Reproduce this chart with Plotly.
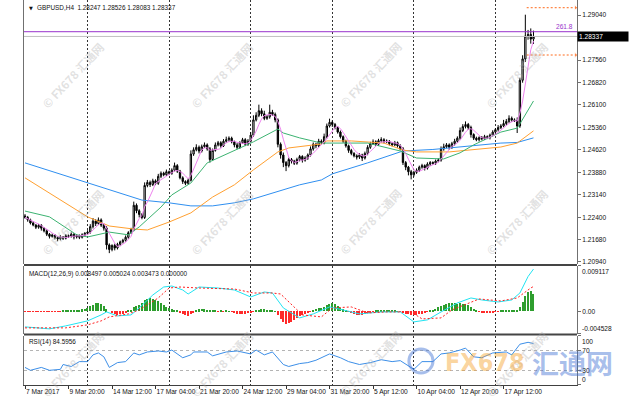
import plotly.graph_objects as go
import pandas as pd

# ---------------- data ----------------
first_open = 1.2245
closes = [
    1.2240, 1.2232, 1.2222, 1.2215, 1.2208, 1.2214, 1.2205, 1.2196, 1.2185, 1.2178,
    1.2182, 1.2174, 1.2170, 1.2176, 1.2172, 1.2180, 1.2178, 1.2185, 1.2176, 1.2181,
    1.2175, 1.2183, 1.2188, 1.2192, 1.2210, 1.2228, 1.2220, 1.2232, 1.2215, 1.2205,
    1.2150, 1.2135, 1.2148, 1.2140, 1.2152, 1.2160, 1.2165, 1.2175, 1.2190, 1.2200,
    1.2280, 1.2262, 1.2250, 1.2240, 1.2345, 1.2355, 1.2348, 1.2360, 1.2352, 1.2375,
    1.2385, 1.2380, 1.2390, 1.2385, 1.2395, 1.2410, 1.2392, 1.2370, 1.2358, 1.2352,
    1.2362, 1.2448, 1.2462, 1.2470, 1.2458, 1.2472, 1.2478, 1.2465, 1.2430, 1.2460,
    1.2478, 1.2485, 1.2475, 1.2490, 1.2495, 1.2500, 1.2488, 1.2478, 1.2470, 1.2485,
    1.2495, 1.2480, 1.2490, 1.2510, 1.2560, 1.2575, 1.2590, 1.2580, 1.2565, 1.2570,
    1.2585, 1.2578, 1.2560, 1.2480, 1.2445, 1.2420, 1.2410, 1.2430, 1.2425, 1.2418,
    1.2430, 1.2440, 1.2428, 1.2435, 1.2445, 1.2465, 1.2480, 1.2475, 1.2490, 1.2485,
    1.2505, 1.2540, 1.2552, 1.2545, 1.2535, 1.2520, 1.2505, 1.2490, 1.2475, 1.2460,
    1.2450, 1.2442, 1.2438, 1.2445, 1.2435, 1.2450, 1.2470, 1.2482, 1.2488, 1.2480,
    1.2492, 1.2495, 1.2488, 1.2490, 1.2482, 1.2478, 1.2485, 1.2475, 1.2465, 1.2420,
    1.2405, 1.2390, 1.2380, 1.2388, 1.2395, 1.2405, 1.2410, 1.2402, 1.2415, 1.2420,
    1.2418, 1.2425, 1.2428, 1.2465, 1.2472, 1.2478, 1.2470, 1.2482, 1.2490, 1.2500,
    1.2525, 1.2538, 1.2545, 1.2535, 1.2512, 1.2500, 1.2495, 1.2502, 1.2498, 1.2505,
    1.2502, 1.2510, 1.2520, 1.2528, 1.2535, 1.2540, 1.2548, 1.2555, 1.2565, 1.2560,
    1.2558, 1.2540, 1.2690, 1.2760, 1.2835, 1.2840, 1.2825, 1.28337,
]
upper_wick_pips = [
    6, 5, 4, 6, 3, 5, 4, 3, 5, 4,
    5, 3, 4, 6, 3, 5, 4, 6, 3, 4,
    3, 5, 4, 6, 8, 10, 6, 8, 5, 4,
    6, 5, 4, 6, 5, 4, 5, 6, 5, 6,
    12, 6, 5, 4, 10, 8, 6, 7, 5, 8,
    6, 5, 7, 4, 6, 10, 5, 4, 5, 4,
    6, 12, 8, 10, 6, 7, 8, 5, 6, 6,
    8, 6, 5, 7, 10, 6, 5, 4, 6, 5,
    6, 5, 7, 10, 15, 10, 20, 8, 10, 6,
    25, 8, 6, 5, 6, 8, 5, 6, 5, 4,
    6, 5, 4, 6, 5, 8, 6, 5, 8, 6,
    10, 8, 12, 6, 5, 4, 5, 4, 5, 4,
    5, 4, 5, 6, 4, 6, 7, 6, 8, 5,
    6, 8, 5, 6, 4, 5, 6, 4, 5, 6,
    5, 4, 6, 5, 6, 5, 6, 4, 6, 5,
    4, 5, 6, 8, 10, 6, 5, 6, 8, 6,
    10, 8, 10, 5, 6, 4, 5, 4, 5, 6,
    4, 5, 6, 5, 8, 6, 12, 8, 10, 6,
    5, 10, 8, 12, 70, 15, 20, 19,
]
lower_wick_pips = [
    4, 6, 5, 4, 6, 5, 8, 5, 6, 7,
    4, 6, 8, 5, 6, 4, 5, 4, 8, 5,
    6, 4, 5, 4, 5, 6, 8, 5, 6, 8,
    15, 12, 6, 8, 5, 6, 5, 4, 5, 4,
    5, 8, 10, 6, 5, 6, 8, 5, 6, 5,
    6, 5, 4, 6, 5, 4, 6, 5, 8, 6,
    5, 4, 6, 5, 8, 5, 4, 6, 10, 5,
    4, 5, 6, 4, 5, 6, 5, 8, 6, 5,
    4, 6, 5, 4, 6, 5, 6, 8, 6, 5,
    6, 5, 8, 10, 12, 15, 18, 6, 8, 6,
    5, 6, 8, 5, 6, 5, 6, 8, 5, 6,
    5, 6, 5, 8, 6, 5, 6, 5, 6, 8,
    6, 5, 8, 6, 10, 5, 6, 5, 4, 6,
    5, 6, 5, 4, 6, 5, 4, 6, 5, 8,
    10, 12, 15, 6, 5, 6, 5, 8, 5, 6,
    5, 6, 4, 5, 6, 5, 8, 5, 6, 5,
    6, 5, 6, 8, 10, 6, 5, 6, 5, 4,
    5, 6, 4, 5, 6, 5, 4, 6, 5, 6,
    5, 23, 6, 8, 10, 12, 15, 16,
]

blue_ma_idx = [0, 23, 43, 53, 61, 69, 77, 84, 93, 101, 109, 113, 126, 139, 150, 163, 175, 181, 187]
blue_ma = [1.2419, 1.2353, 1.2297, 1.2288, 1.2278, 1.2278, 1.2288, 1.2301, 1.2324, 1.2347,
           1.2363, 1.2383, 1.2419, 1.2458, 1.2463, 1.2474, 1.2484, 1.2486, 1.2501]
orange_ma_idx = [0, 9, 23, 31, 40, 45, 53, 61, 69, 77, 84, 93, 97, 109, 111, 120, 132, 139,
                 144, 156, 167, 175, 181, 187]
orange_ma = [1.2370, 1.2320, 1.2242, 1.2212, 1.2202, 1.2199, 1.2225, 1.2255, 1.2307, 1.2347,
             1.2396, 1.2455, 1.2468, 1.2481, 1.2491, 1.2491, 1.2484, 1.2461, 1.2455, 1.2455,
             1.2465, 1.2471, 1.2484, 1.2524]
green_ma_idx = [0, 9, 19, 23, 31, 38, 42, 50, 54, 61, 67, 77, 84, 93, 95, 101, 109, 117, 126,
                138, 144, 154, 160, 165, 175, 181, 182, 187]
green_ma = [1.2261, 1.2242, 1.2183, 1.2176, 1.2192, 1.2183, 1.2209, 1.2274, 1.2314, 1.2353,
            1.2419, 1.2461, 1.2488, 1.2530, 1.2517, 1.2501, 1.2484, 1.2484, 1.2484, 1.2458,
            1.2435, 1.2432, 1.2452, 1.2478, 1.2520, 1.2533, 1.2547, 1.2622]

macd_idx = [0, 9, 15, 23, 28, 30, 34, 39, 42, 47, 51, 54, 58, 60, 64, 71, 77, 83, 88, 91,
            95, 101, 106, 112, 117, 123, 131, 138, 143, 148, 153, 159, 164, 168, 174, 179,
            182, 185, 187]
macd_main = [-0.0031, -0.0035, -0.0029, -0.0019, -0.0007, -0.0001, -0.0009, -0.0007, 0.0007,
             0.0033, 0.0049, 0.0051, 0.0043, 0.0035, 0.0049, 0.0047, 0.0043, 0.0029, 0.0039,
             0.0037, 0.0007, -0.0013, -0.0005, 0.0009, 0.0003, -0.0005, -0.0001, -0.0001,
             -0.0021, -0.0017, -0.0001, 0.0017, 0.0027, 0.0023, 0.0019, 0.0023, 0.0037,
             0.0070, 0.0085]
signal_idx = [0, 15, 23, 28, 31, 38, 42, 49, 53, 57, 64, 77, 84, 91, 94, 99, 102, 109, 113,
              120, 126, 133, 142, 146, 153, 157, 163, 167, 175, 181, 186, 187]
macd_signal = [-0.0033, -0.0033, -0.0027, -0.0019, -0.0011, -0.0005, 0.0003, 0.0027, 0.0047,
               0.0049, 0.0047, 0.0045, 0.0037, 0.0037, 0.0035, 0.0009, -0.0007, -0.0011,
               0.0007, 0.0009, -0.0003, -0.0001, -0.0001, -0.0015, -0.0013, 0.0003, 0.0017,
               0.0025, 0.0021, 0.0027, 0.0047, 0.0050]
macd_hist = [
    -0.00005, -0.00005, -0.00005, -0.00005, -0.00005, -0.00005, -0.00005, -0.00005, -0.00005, -0.00005,
    -0.00005, -0.00005, -0.00005, -0.00005, 0.0001, 0.0001, 0.00015, 0.0002, 0.0002, 0.0003,
    0.0003, 0.0004, 0.0005, 0.0007, 0.0010, 0.0013, 0.0016, 0.0017, 0.0015, 0.0011,
    0.0004, 0.0000, -0.0003, -0.0005, -0.0007, -0.0006, -0.0005, -0.0003, 0.0001, 0.0003,
    0.0008, 0.0011, 0.0013, 0.0016, 0.0022, 0.0025, 0.0026, 0.0025, 0.0023, 0.0020,
    0.0016, 0.0012, 0.0009, 0.0006, 0.0004, 0.0002, 0.0001, -0.0003, -0.0006, -0.0008,
    -0.0009, -0.0006, -0.0002, 0.0002, 0.0004, 0.0005, 0.0004, 0.0003, 0.0001, 0.0001,
    0.0001, -0.00005, 0.0001, -0.00005, 0.0001, 0.00005, -0.0001, -0.0003, -0.0005, -0.0006,
    -0.0006, -0.0005, -0.0004, -0.0003, -0.0001, 0.0002, 0.0003, 0.0004, 0.0004, 0.0003,
    0.0002, 0.0001, 0.00005, -0.0008, -0.0015, -0.0021, -0.0025, -0.0024, -0.0022, -0.0018,
    -0.0014, -0.0010, -0.0007, -0.0005, -0.0003, -0.0001, 0.0003, 0.0005, 0.0006, 0.0007,
    0.0009, 0.0012, 0.0015, 0.0016, 0.0014, 0.0011, 0.0007, 0.0004, 0.0001, -0.0001,
    -0.0003, -0.0005, -0.0007, -0.0008, -0.0007, -0.0006, -0.0004, -0.0002, -0.0001, 0.0001,
    0.0002, 0.0003, 0.0003, 0.0003, 0.0002, 0.0002, 0.0001, 0.00005, -0.0001, -0.0003,
    -0.0005, -0.0006, -0.0008, -0.0008, -0.0007, -0.0006, -0.0005, -0.0003, -0.0001, 0.0001,
    0.0003, 0.0005, 0.0008, 0.0011, 0.0013, 0.0015, 0.0016, 0.0017, 0.0016, 0.0015,
    0.0016, 0.0015, 0.0014, 0.0012, 0.0008, 0.0005, 0.0002, -0.0001, -0.0002, -0.0002,
    -0.0003, -0.0002, -0.0002, -0.0001, -0.0001, 0.0001, 0.0002, 0.0003, 0.0003, 0.0003,
    0.0002, 0.0002, 0.0008, 0.0018, 0.0030, 0.0040, 0.0041, 0.003473,
]

rsi_idx = [0, 2, 6, 9, 13, 14, 17, 20, 23, 25, 27, 29, 31, 34, 37, 40, 42, 45, 49, 52,
           54, 58, 61, 62, 67, 69, 74, 78, 83, 85, 88, 91, 95, 97, 101, 104, 107, 112, 116, 119,
           123, 127, 131, 135, 138, 142, 143, 146, 150, 153, 156, 160, 162, 165, 168, 172, 177,
           179, 182, 185, 187]
rsi_values = [35.9, 30, 35.9, 30, 31.9, 41.8, 37.8, 47.7, 47.7, 61.5,
              65.4, 57.5, 35.9, 45.7, 47.7, 65.4, 61.5, 67.4, 69.4, 67.4,
              71.3, 55.6, 61.5, 67.4, 67.4, 59.5, 67.4, 69.4, 63.4, 71.3,
              61.5, 67.4, 41.8, 37.8, 43.7, 45.7, 50.5, 63.4, 55.6, 47.7,
              41.8, 45.7, 51.6, 47.7, 49.7, 35.9, 31.9, 47.7, 47.7, 63.4,
              65.4, 71.3, 75.3, 57.5, 55.6, 65.4, 67.4, 61.5, 83.2, 87.1, 84.6]

time_label_idx = [0, 16, 32, 48, 64, 80, 96, 112, 128, 144, 160, 176]
time_labels = ["7 Mar 2017", "9 Mar 20:00", "14 Mar 12:00", "17 Mar 04:00", "21 Mar 20:00",
               "24 Mar 12:00", "29 Mar 04:00", "31 Mar 20:00", "5 Apr 12:00", "10 Apr 04:00",
               "12 Apr 20:00", "17 Apr 12:00"]
week_start_idx = [23, 53, 83, 113, 143, 173]

price_tick_vals = [1.29040, 1.27560, 1.26820, 1.26100, 1.25360, 1.24620, 1.23880, 1.23140,
                   1.22400, 1.21680, 1.20940]
price_tick_labels = ["1.29040", "1.27560", "1.26820", "1.26100", "1.25360", "1.24620",
                     "1.23880", "1.23140", "1.22400", "1.21680", "1.20940"]
macd_tick_vals = [0.009117, 0.0, -0.004528]
macd_tick_labels = ["0.009117", "0.00", "-0.004528"]
rsi_tick_vals = [100, 70, 30, 0]
rsi_tick_labels = ["100", "70", "30", "0"]
rsi_levels = [70, 30]

last_price = 1.28337
last_price_label = "1.28337"
fib_level = 1.28492
fib_label = "261.8"
target_levels = [1.29279, 1.27728]
target_span = [184.5, 202.5]

header_text = "GBPUSD,H4  1.28247 1.28526 1.28083 1.28337"
macd_header = "MACD(12,26,9) 0.008497 0.005024 0.003473 0.000000"
rsi_header = "RSI(14) 84.5956"
watermark_text = "© FX678 汇通网"

# ---------------- derived ----------------
idx = list(range(len(closes)))
opens = [first_open] + closes[:-1]
highs = [max(o, c) + u * 0.0001 for o, c, u in zip(opens, closes, upper_wick_pips)]
lows = [min(o, c) - l * 0.0001 for o, c, l in zip(opens, closes, lower_wick_pips)]
fast_ma = pd.Series(closes).rolling(5, min_periods=1).mean().tolist()

FONT = "Liberation Sans, Arial, sans-serif"
TICKF = dict(family=FONT, size=6.6, color="#111111")

fig = go.Figure()

# main panel
fig.add_trace(go.Scatter(x=blue_ma_idx, y=blue_ma, mode="lines",
                         line=dict(color="#2f8ff0", width=1), xaxis="x", yaxis="y"))
fig.add_trace(go.Scatter(x=orange_ma_idx, y=orange_ma, mode="lines",
                         line=dict(color="#ffa030", width=1), xaxis="x", yaxis="y"))
fig.add_trace(go.Candlestick(
    x=idx, open=opens, high=highs, low=lows, close=closes,
    increasing=dict(line=dict(color="#000000", width=1), fillcolor="#ffffff"),
    decreasing=dict(line=dict(color="#000000", width=1), fillcolor="#000000"),
    whiskerwidth=0, xaxis="x", yaxis="y", hoverinfo="skip"))
fig.add_trace(go.Scatter(x=green_ma_idx, y=green_ma, mode="lines",
                         line=dict(color="#3cb371", width=1), xaxis="x", yaxis="y"))
fig.add_trace(go.Scatter(x=idx, y=fast_ma, mode="lines",
                         line=dict(color="#ee82ee", width=1), xaxis="x", yaxis="y"))
for lvl in target_levels:
    fig.add_trace(go.Scatter(x=target_span, y=[lvl, lvl], mode="lines+markers",
                             line=dict(color="#ff6a1a", width=1, dash="2px,2px"),
                             marker=dict(symbol=["line-ns", "triangle-right"], size=[0, 5],
                                         color="#ff6a1a"),
                             xaxis="x", yaxis="y"))

# MACD panel
hist_colors = ["#2e9e2e" if v >= 0 else "#ff2a2a" for v in macd_hist]
fig.add_trace(go.Bar(x=list(range(len(macd_hist))), y=macd_hist, marker_color=hist_colors,
                     marker_line_width=0, width=0.45, xaxis="x2", yaxis="y2"))
fig.add_trace(go.Scatter(x=macd_idx, y=macd_main, mode="lines",
                         line=dict(color="#22e4f2", width=1), xaxis="x2", yaxis="y2"))
fig.add_trace(go.Scatter(x=signal_idx, y=macd_signal, mode="lines",
                         line=dict(color="#ff2020", width=1, dash="2px,2px"),
                         xaxis="x2", yaxis="y2"))

# RSI panel
fig.add_trace(go.Scatter(x=rsi_idx, y=rsi_values, mode="lines",
                         line=dict(color="#3d8fe8", width=1), xaxis="x3", yaxis="y3"))

grid_minor = dict(tickmode="array", tickvals=week_start_idx, showgrid=True,
                  gridcolor="#333333", gridwidth=1, griddash="2px,2px", ticks="")
xcommon = dict(range=[-0.37, 203], showgrid=False, zeroline=False, minor=grid_minor,
               automargin=False, tickangle=0)

ycommon = dict(side="right", showgrid=False, zeroline=False, ticks="outside", ticklen=3,
               tickcolor="#707070", showline=True, mirror=True, linecolor="#707070",
               linewidth=1, tickfont=TICKF, automargin=False)

macd_text = [t if v == 0 else "" for v, t in zip(macd_tick_vals, macd_tick_labels)]
rsi_text = [t if v in rsi_levels else "" for v, t in zip(rsi_tick_vals, rsi_tick_labels)]

fig.update_layout(
    width=630, height=400,
    margin=dict(l=24, r=53, t=0, b=15, autoexpand=False),
    paper_bgcolor="white", plot_bgcolor="white", showlegend=False,
    xaxis=dict(**xcommon, anchor="y", domain=[0, 1], showticklabels=False,
               rangeslider=dict(visible=False)),
    xaxis2=dict(**xcommon, anchor="y2", domain=[0, 1], matches="x", showticklabels=False),
    xaxis3=dict(**xcommon, anchor="y3", domain=[0, 1], matches="x",
                tickmode="array", tickvals=time_label_idx, ticktext=time_labels,
                ticklabelposition="outside right", ticks="outside", ticklen=3,
                tickcolor="#333333", tickfont=TICKF, showline=True, linecolor="#404040"),
    yaxis=dict(**ycommon, domain=[0.3143, 1.0], range=[1.20874, 1.29532],
               tickmode="array", tickvals=price_tick_vals, ticktext=price_tick_labels),
    yaxis2=dict(**ycommon, domain=[0.1325, 0.3091], range=[-0.004528, 0.009117],
                tickmode="array", tickvals=macd_tick_vals, ticktext=macd_text),
    yaxis3=dict(**ycommon, domain=[0.0, 0.1273], range=[0, 100],
                tickmode="array", tickvals=rsi_tick_vals, ticktext=rsi_text,
                minor=dict(tickmode="array", tickvals=rsi_levels, showgrid=True,
                           gridcolor="#b4b4b4", griddash="3px,3px", ticks="")),
    bargap=0,
)

# bid line and fibonacci level across the price panel
fig.add_shape(type="line", xref="paper", x0=0, x1=1, yref="y", y0=last_price, y1=last_price,
              line=dict(color="#c0c0c0", width=1))
fig.add_shape(type="line", xref="paper", x0=0, x1=1, yref="y", y0=fib_level, y1=fib_level,
              line=dict(color="#9933cc", width=1))
# panel separators
for ysep in [0.3117, 0.1312]:
    fig.add_shape(type="line", xref="paper", x0=0, x1=1, yref="paper", y0=ysep, y1=ysep,
                  line=dict(color="#454545", width=2))

ann = []
ann.append(dict(x=1, xref="paper", xanchor="left", xshift=0, y=last_price, yref="y",
                yanchor="middle", text=last_price_label, showarrow=False, bgcolor="#000000",
                borderpad=1, width=48, align="left",
                font=dict(family=FONT, size=6.6, color="#ffffff")))
ann.append(dict(x=1, xref="paper", xanchor="right", xshift=-2, y=fib_level, yref="y",
                yanchor="bottom", text=fib_label, showarrow=False,
                font=dict(family=FONT, size=6.6, color="#9933cc")))
ann.append(dict(x=0.005, xref="paper", xanchor="left", y=0.993, yref="paper", yanchor="top",
                text="▼", showarrow=False, font=dict(family="DejaVu Sans", size=5, color="#111")))
ann.append(dict(x=0.019, xref="paper", xanchor="left", y=0.996, yref="paper", yanchor="top",
                text=header_text, showarrow=False, font=dict(family=FONT, size=6.4, color="#111")))
ann.append(dict(x=0.006, xref="paper", xanchor="left", y=0.303, yref="paper", yanchor="top",
                text=macd_header, showarrow=False, font=dict(family=FONT, size=6.4, color="#111")))
ann.append(dict(x=0.006, xref="paper", xanchor="left", y=0.126, yref="paper", yanchor="top",
                text=rsi_header, showarrow=False, font=dict(family=FONT, size=6.4, color="#111")))
# edge tick labels of indicator panels
ann.append(dict(x=1, xref="paper", xanchor="left", xshift=3, y=macd_tick_vals[0], yref="y2",
                yanchor="top", text=macd_tick_labels[0], showarrow=False, font=TICKF))
ann.append(dict(x=1, xref="paper", xanchor="left", xshift=3, y=macd_tick_vals[2], yref="y2",
                yanchor="bottom", text=macd_tick_labels[2], showarrow=False, font=TICKF))
ann.append(dict(x=1, xref="paper", xanchor="left", xshift=3, y=rsi_tick_vals[0], yref="y3",
                yanchor="top", text=rsi_tick_labels[0], showarrow=False, font=TICKF))
ann.append(dict(x=1, xref="paper", xanchor="left", xshift=3, y=rsi_tick_vals[3], yref="y3",
                yanchor="bottom", text=rsi_tick_labels[3], showarrow=False, font=TICKF))

# watermarks
for wx in [0.0886, 0.358, 0.6257, 0.8915]:
    for wy in [0.805, 0.4234, 0.055]:
        ann.append(dict(x=wx, y=wy, xref="paper", yref="paper", xanchor="center",
                        yanchor="middle", text="<b>" + watermark_text + "</b>",
                        showarrow=False, textangle=-47,
                        font=dict(family="Noto Sans CJK SC, DejaVu Sans", size=11.5,
                                  color="rgba(170,170,170,0.35)")))
# big logo
ann.append(dict(x=0.8336, y=0.0597, xref="paper", yref="paper", xanchor="center",
                yanchor="middle", text="<b>FX678</b>", showarrow=False,
                font=dict(family="DejaVu Sans Condensed, DejaVu Sans", size=25,
                          color="rgba(245,160,40,0.45)")))
ann.append(dict(x=0.991, y=0.0597, xref="paper", yref="paper", xanchor="center",
                yanchor="middle", text="<b>汇通网</b>", showarrow=False,
                font=dict(family="Noto Sans CJK SC", size=27, color="rgba(60,110,210,0.45)")))
fig.add_shape(type="circle", xref="paper", yref="paper", x0=0.696, x1=0.7396, y0=0.0312,
              y1=0.0935, line=dict(color="rgba(60,110,210,0.45)", width=3))
fig.update_layout(annotations=ann)

fig.write_html("out.html", config={"displayModeBar": False},
               post_script="document.body.style.margin='0px';")
